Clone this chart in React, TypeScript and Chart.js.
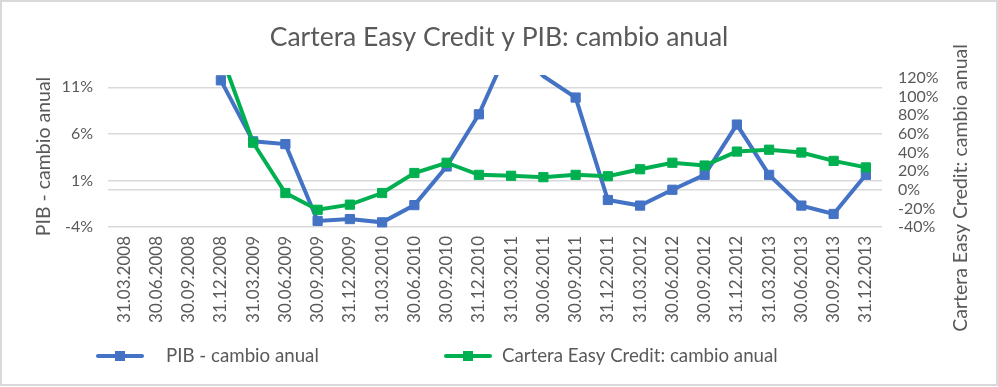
import React, { useEffect, useRef } from "react";
import { Chart, registerables } from "chart.js";

Chart.register(...registerables);

const categories = [
  "31.03.2008", "30.06.2008", "30.09.2008", "31.12.2008",
  "31.03.2009", "30.06.2009", "30.09.2009", "31.12.2009",
  "31.03.2010", "30.06.2010", "30.09.2010", "31.12.2010",
  "31.03.2011", "30.06.2011", "30.09.2011", "31.12.2011",
  "31.03.2012", "30.06.2012", "30.09.2012", "31.12.2012",
  "31.03.2013", "30.06.2013", "30.09.2013", "31.12.2013",
];

const pibValues = [
  null, null, null, 11.75,
  5.2, 4.9, -3.35, -3.15,
  -3.5, -1.65, 2.5, 8.1,
  15.8, 12.2, 9.9, -1.1,
  -1.7, 0.0, 1.6, 7.0,
  1.6, -1.7, -2.6, 1.6,
];

const carteraValues = [
  null, null, null, 146,
  50.5, -3.5, -21.5, -16,
  -3.5, 18, 29, 16,
  15, 13.5, 16, 14.5,
  22, 29, 26, 41,
  43, 40, 31, 24,
];

const leftTicks = [-4, 1, 6, 11];
const leftMin = -4;
const leftMax = 12;
const rightTicks = [-40, -20, 0, 20, 40, 60, 80, 100, 120];
const rightMin = -40;
const rightMax = 120;

const titleText = "Cartera Easy Credit y PIB: cambio anual";
const leftTitle = "PIB - cambio anual";
const rightTitle = "Cartera Easy Credit: cambio anual";
const seriesNames = ["PIB - cambio anual", "Cartera Easy Credit: cambio anual"];
const seriesColors = ["#4472C4", "#00B050"];

const TEXT = "#595959";
const GRID = "#d9d9d9";
const FONT = "Lato";

const decorPlugin = {
  id: "decor",
  afterDraw(chart: any) {
    const { ctx, chartArea } = chart;
    ctx.save();
    // outer border
    ctx.strokeStyle = GRID;
    ctx.lineWidth = 2;
    ctx.strokeRect(1, 1, 996, 384);

    // title
    ctx.fillStyle = TEXT;
    ctx.font = `26.5px ${FONT}`;
    ctx.textAlign = "center";
    ctx.textBaseline = "alphabetic";
    ctx.fillText(titleText, 499, 46);

    // axis titles
    ctx.font = `19.5px ${FONT}`;
    ctx.textBaseline = "middle";
    ctx.save();
    ctx.translate(44, (chartArea.top + chartArea.bottom) / 2 + 4);
    ctx.rotate(-Math.PI / 2);
    ctx.fillText(leftTitle, 0, 0);
    ctx.restore();

    ctx.save();
    ctx.translate(961, 188);
    ctx.rotate(-Math.PI / 2);
    ctx.fillText(rightTitle, 0, 0);
    ctx.restore();

    // legend
    const symX = [98, 446];
    const txtX = [166, 502];
    const ly = 356;
    chart.data.datasets.forEach((ds: any, i: number) => {
      const c = ds.borderColor;
      ctx.strokeStyle = c;
      ctx.lineWidth = 4;
      ctx.lineCap = "round";
      ctx.beginPath();
      ctx.moveTo(symX[i], ly);
      ctx.lineTo(symX[i] + 44, ly);
      ctx.stroke();
      ctx.fillStyle = c;
      ctx.fillRect(symX[i] + 22 - 5, ly - 5, 10, 10);
      ctx.fillStyle = TEXT;
      ctx.font = `18.7px ${FONT}`;
      ctx.textAlign = "left";
      ctx.textBaseline = "middle";
      ctx.fillText(ds.label, txtX[i], ly);
    });
    ctx.restore();
  },
};

function App() {
  const ref = useRef<HTMLCanvasElement | null>(null);

  useEffect(() => {
    document.body.style.margin = "0";
    const canvas = ref.current;
    if (!canvas) return;
    const pointR = (max: number) => (ctx: any) => {
      const v = ctx.raw;
      return v == null || v > max ? 0 : 6.5;
    };
    const chart = new Chart(canvas, {
      type: "line",
      data: {
        labels: categories,
        datasets: [
          {
            label: seriesNames[0],
            data: pibValues,
            yAxisID: "y",
            borderColor: seriesColors[0],
            backgroundColor: seriesColors[0],
            borderWidth: 4,
            pointStyle: "rect",
            pointRadius: pointR(leftMax),
            pointBorderWidth: 1,
            pointBorderColor: seriesColors[0],
            pointBackgroundColor: seriesColors[0],
            tension: 0,
            order: 1,
            clip: { left: 20, right: 20, top: 3, bottom: 20 },
          },
          {
            label: seriesNames[1],
            data: carteraValues,
            yAxisID: "y1",
            borderColor: seriesColors[1],
            backgroundColor: seriesColors[1],
            borderWidth: 4,
            pointStyle: "rect",
            pointRadius: pointR(rightMax),
            pointBorderWidth: 1,
            pointBorderColor: seriesColors[1],
            pointBackgroundColor: seriesColors[1],
            tension: 0,
            order: 0,
            clip: { left: 20, right: 20, top: 3, bottom: 20 },
          },
        ],
      },
      options: {
        responsive: false,
        animation: false,
        layout: { padding: { top: 78, left: 0, right: 0, bottom: 50 } },
        plugins: {
          legend: { display: false },
          title: { display: false },
          tooltip: { enabled: false },
        },
        scales: {
          x: {
            type: "category",
            offset: true,
            grid: { display: false, drawTicks: false },
            border: { display: false },
            ticks: {
              autoSkip: false,
              minRotation: 90,
              maxRotation: 90,
              padding: 9,
              color: TEXT,
              font: { family: FONT, size: 17 },
            },
            afterFit(scale: any) {
              scale.height = 110;
            },
          },
          y: {
            position: "left",
            min: leftMin,
            max: leftMax,
            afterBuildTicks(scale: any) {
              scale.ticks = leftTicks.map((v) => ({ value: v }));
            },
            grid: { color: GRID, lineWidth: 1.5, drawTicks: false },
            border: { display: false },
            ticks: {
              padding: 15,
              color: TEXT,
              font: { family: FONT, size: 16 },
              callback: (v: any) => `${v}%`,
            },
            afterFit(scale: any) {
              scale.width = 108;
            },
          },
          y1: {
            position: "right",
            min: rightMin,
            max: rightMax,
            afterBuildTicks(scale: any) {
              scale.ticks = rightTicks.map((v) => ({ value: v }));
            },
            grid: {
              drawTicks: false,
              lineWidth: 1.5,
              color: (c: any) => (c.tick && c.tick.value === 0 ? GRID : "rgba(0,0,0,0)"),
            },
            border: { display: false },
            ticks: {
              autoSkip: false,
              padding: 16,
              color: TEXT,
              font: { family: FONT, size: 16 },
              callback: (v: any) => `${v}%`,
            },
            afterFit(scale: any) {
              scale.width = 116;
            },
          },
        },
      } as any,
      plugins: [decorPlugin],
    });
    return () => chart.destroy();
  }, []);

  return (
    <div style={{ width: 998, height: 387 }}>
      <canvas ref={ref} width={998} height={387} style={{ display: "block" }} />
    </div>
  );
}

export default App;
